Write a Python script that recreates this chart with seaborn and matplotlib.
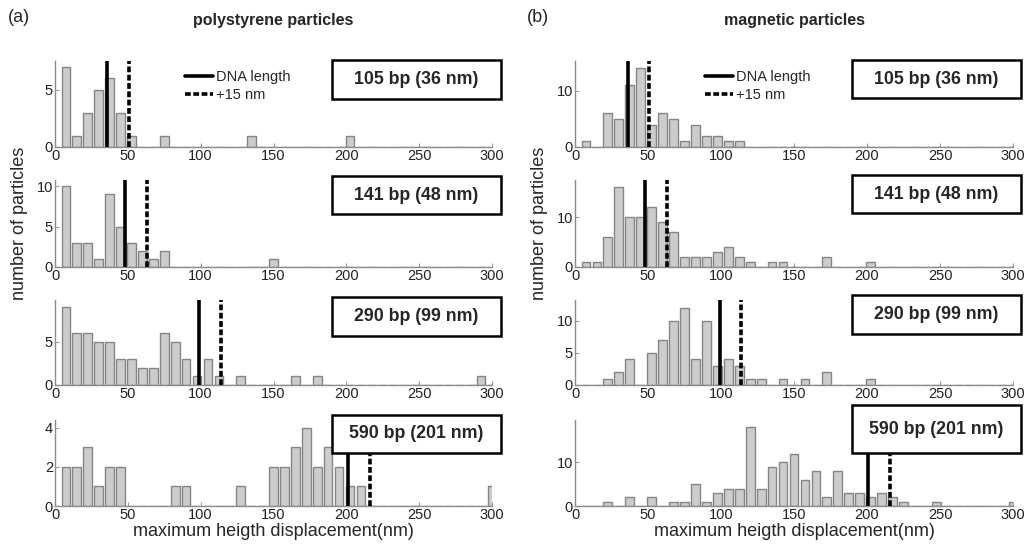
import numpy as np
import pandas as pd
import matplotlib
matplotlib.use("Agg")
import matplotlib.pyplot as plt
from matplotlib.patches import Rectangle
import seaborn as sns

# ---------------- data ----------------
bin_width = 7.5
n_bins = 40
centers = bin_width * np.arange(1, n_bins + 1)

labels = ["105 bp (36 nm)", "141 bp (48 nm)", "290 bp (99 nm)", "590 bp (201 nm)"]
dna_length = [36, 48, 99, 201]
offset = 15

# polystyrene particles (counts per 7.5 nm bin, centres 7.5 ... 300)
ps_105 = [7, 1, 3, 5, 6, 3, 1, 0, 0, 1, 0, 0, 0, 0, 0, 0, 0, 1, 0, 0,
          0, 0, 0, 0, 0, 0, 1, 0, 0, 0, 0, 0, 0, 0, 0, 0, 0, 0, 0, 0]
ps_141 = [10, 3, 3, 1, 9, 5, 3, 2, 1, 2, 0, 0, 0, 0, 0, 0, 0, 0, 0, 1,
          0, 0, 0, 0, 0, 0, 0, 0, 0, 0, 0, 0, 0, 0, 0, 0, 0, 0, 0, 0]
ps_290 = [9, 6, 6, 5, 5, 3, 3, 2, 2, 6, 5, 3, 1, 3, 1, 0, 1, 0, 0, 0,
          0, 1, 0, 1, 0, 0, 0, 0, 0, 0, 0, 0, 0, 0, 0, 0, 0, 0, 1, 0]
ps_590 = [2, 2, 3, 1, 2, 2, 0, 0, 0, 0, 1, 1, 0, 0, 0, 0, 1, 0, 0, 2,
          2, 3, 4, 2, 3, 2, 1, 1, 0, 0, 0, 0, 0, 0, 0, 0, 0, 0, 0, 1]

# magnetic particles
mg_105 = [1, 0, 6, 5, 11, 14, 4, 6, 5, 1, 4, 2, 2, 1, 1, 0, 0, 0, 0, 0,
          0, 0, 0, 0, 0, 0, 0, 0, 0, 0, 0, 0, 0, 0, 0, 0, 0, 0, 0, 0]
mg_141 = [1, 1, 6, 16, 10, 10, 12, 9, 7, 2, 2, 2, 3, 4, 2, 1, 0, 1, 1, 0,
          0, 0, 2, 0, 0, 0, 1, 0, 0, 0, 0, 0, 0, 0, 0, 0, 0, 0, 0, 0]
mg_290 = [0, 0, 1, 2, 4, 0, 5, 7, 10, 12, 4, 10, 3, 4, 3, 1, 1, 0, 1, 0,
          1, 0, 2, 0, 0, 0, 1, 0, 0, 0, 0, 0, 0, 0, 0, 0, 0, 0, 0, 0]
mg_590 = [0, 0, 1, 0, 2, 0, 2, 0, 1, 1, 5, 1, 3, 4, 4, 18, 4, 9, 10, 12,
          6, 8, 2, 8, 3, 3, 2, 3, 2, 1, 0, 0, 1, 0, 0, 0, 0, 0, 0, 1]

columns = {
    "polystyrene": [ps_105, ps_141, ps_290, ps_590],
    "magnetic": [mg_105, mg_141, mg_290, mg_590],
}
col_titles = ["polystyrene particles", "magnetic particles"]
col_tags = ["(a)", "(b)"]

ylims = {"polystyrene": [7.5, 10.8, 9.8, 4.4], "magnetic": [15.3, 17.5, 13.2, 19.7]}
yticks = {"polystyrene": [[0, 5], [0, 5, 10], [0, 5], [0, 2, 4]],
          "magnetic": [[0, 10], [0, 10], [0, 5, 10], [0, 10]]}
xticks = [0, 50, 100, 150, 200, 250, 300]

# ---------------- style ----------------
sns.set_style("ticks")
plt.rcParams["font.family"] = ["Liberation Sans", "DejaVu Sans"]

W, H = 1026, 544
fig = plt.figure(figsize=(W / 100, H / 100), dpi=100)

col_x = [(55, 492), (575, 1013)]
row_y = [(61, 147), (180, 267), (300, 385), (420, 506)]
box_x = [(332, 501), (852, 1021)]
box_y = [[(60, 99), (176, 214), (297, 336), (415, 453)],
         [(60, 98), (175, 213), (295, 334), (405, 453)]]

for ci, key in enumerate(columns):
    x0, x1 = col_x[ci]
    for ri, counts in enumerate(columns[key]):
        y0, y1 = row_y[ri]
        ax = fig.add_axes([x0 / W, 1 - y1 / H, (x1 - x0) / W, (y1 - y0) / H])
        df = pd.DataFrame({"x": centers, "n": np.asarray(counts, dtype=float)})
        sns.histplot(data=df, x="x", weights="n", binwidth=bin_width,
                     binrange=(bin_width / 2, centers[-1] + bin_width / 2),
                     shrink=0.8, ax=ax, color="#cccccc", edgecolor="#858585",
                     linewidth=1.0, alpha=1.0, zorder=2)
        ax.set_xlim(0, 300)
        ax.set_ylim(0, ylims[key][ri])
        ax.set_xticks(xticks)
        ax.set_yticks(yticks[key][ri])
        ax.set_xlabel("")
        ax.set_ylabel("")
        sol = ax.axvline(dna_length[ri], color="black", lw=2.6, zorder=3,
                         label="DNA length")
        das = ax.axvline(dna_length[ri] + offset, color="black", lw=2.6,
                         ls=(0, (1.6, 0.7)), zorder=3, label="+15 nm")
        for s in ["top", "right"]:
            ax.spines[s].set_visible(False)
        for s in ["left", "bottom"]:
            ax.spines[s].set_color("#8c8c8c")
            ax.spines[s].set_linewidth(1.0)
        ax.tick_params(direction="in", length=3, width=0.8, color="#9a9a9a",
                       labelsize=10.5, labelcolor="#222222", pad=1.5)
        ax.patch.set_alpha(0)
        if ri == 0:
            ax.legend(handles=[sol, das], loc="upper left",
                      bbox_to_anchor=((185 if ci == 0 else 705) / W, 1 - 70 / H),
                      bbox_transform=fig.transFigure, frameon=False,
                      fontsize=10.5, handlelength=1.9, handletextpad=0.2,
                      labelspacing=0.25, borderpad=0, borderaxespad=0)
        # label box
        bx0, bx1 = box_x[ci]
        by0, by1 = box_y[ci][ri]
        rect = Rectangle((bx0 / W, 1 - by1 / H), (bx1 - bx0) / W, (by1 - by0) / H,
                         transform=fig.transFigure, facecolor="white",
                         edgecolor="black", linewidth=1.8, zorder=10)
        fig.patches.append(rect)
        fig.text((bx0 + bx1) / 2 / W, 1 - (by0 + by1) / 2 / H, labels[ri],
                 ha="center", va="center", fontsize=12.8, fontweight="bold",
                 zorder=11)

    cx = (x0 + x1) / 2 / W
    fig.text(cx, 1 - 20 / H, col_titles[ci], ha="center", va="center",
             fontsize=11.5, fontweight="bold")
    fig.text((8 if ci == 0 else 527) / W, 1 - 18 / H, col_tags[ci],
             ha="left", va="center", fontsize=13)
    fig.text(cx, 1 - 532 / H, "maximum heigth displacement(nm)",
             ha="center", va="center", fontsize=13)
    fig.text((20 if ci == 0 else 540) / W, 1 - 223 / H, "number of particles",
             ha="center", va="center", rotation=90, fontsize=13)

fig.savefig("out.png", dpi=100)
